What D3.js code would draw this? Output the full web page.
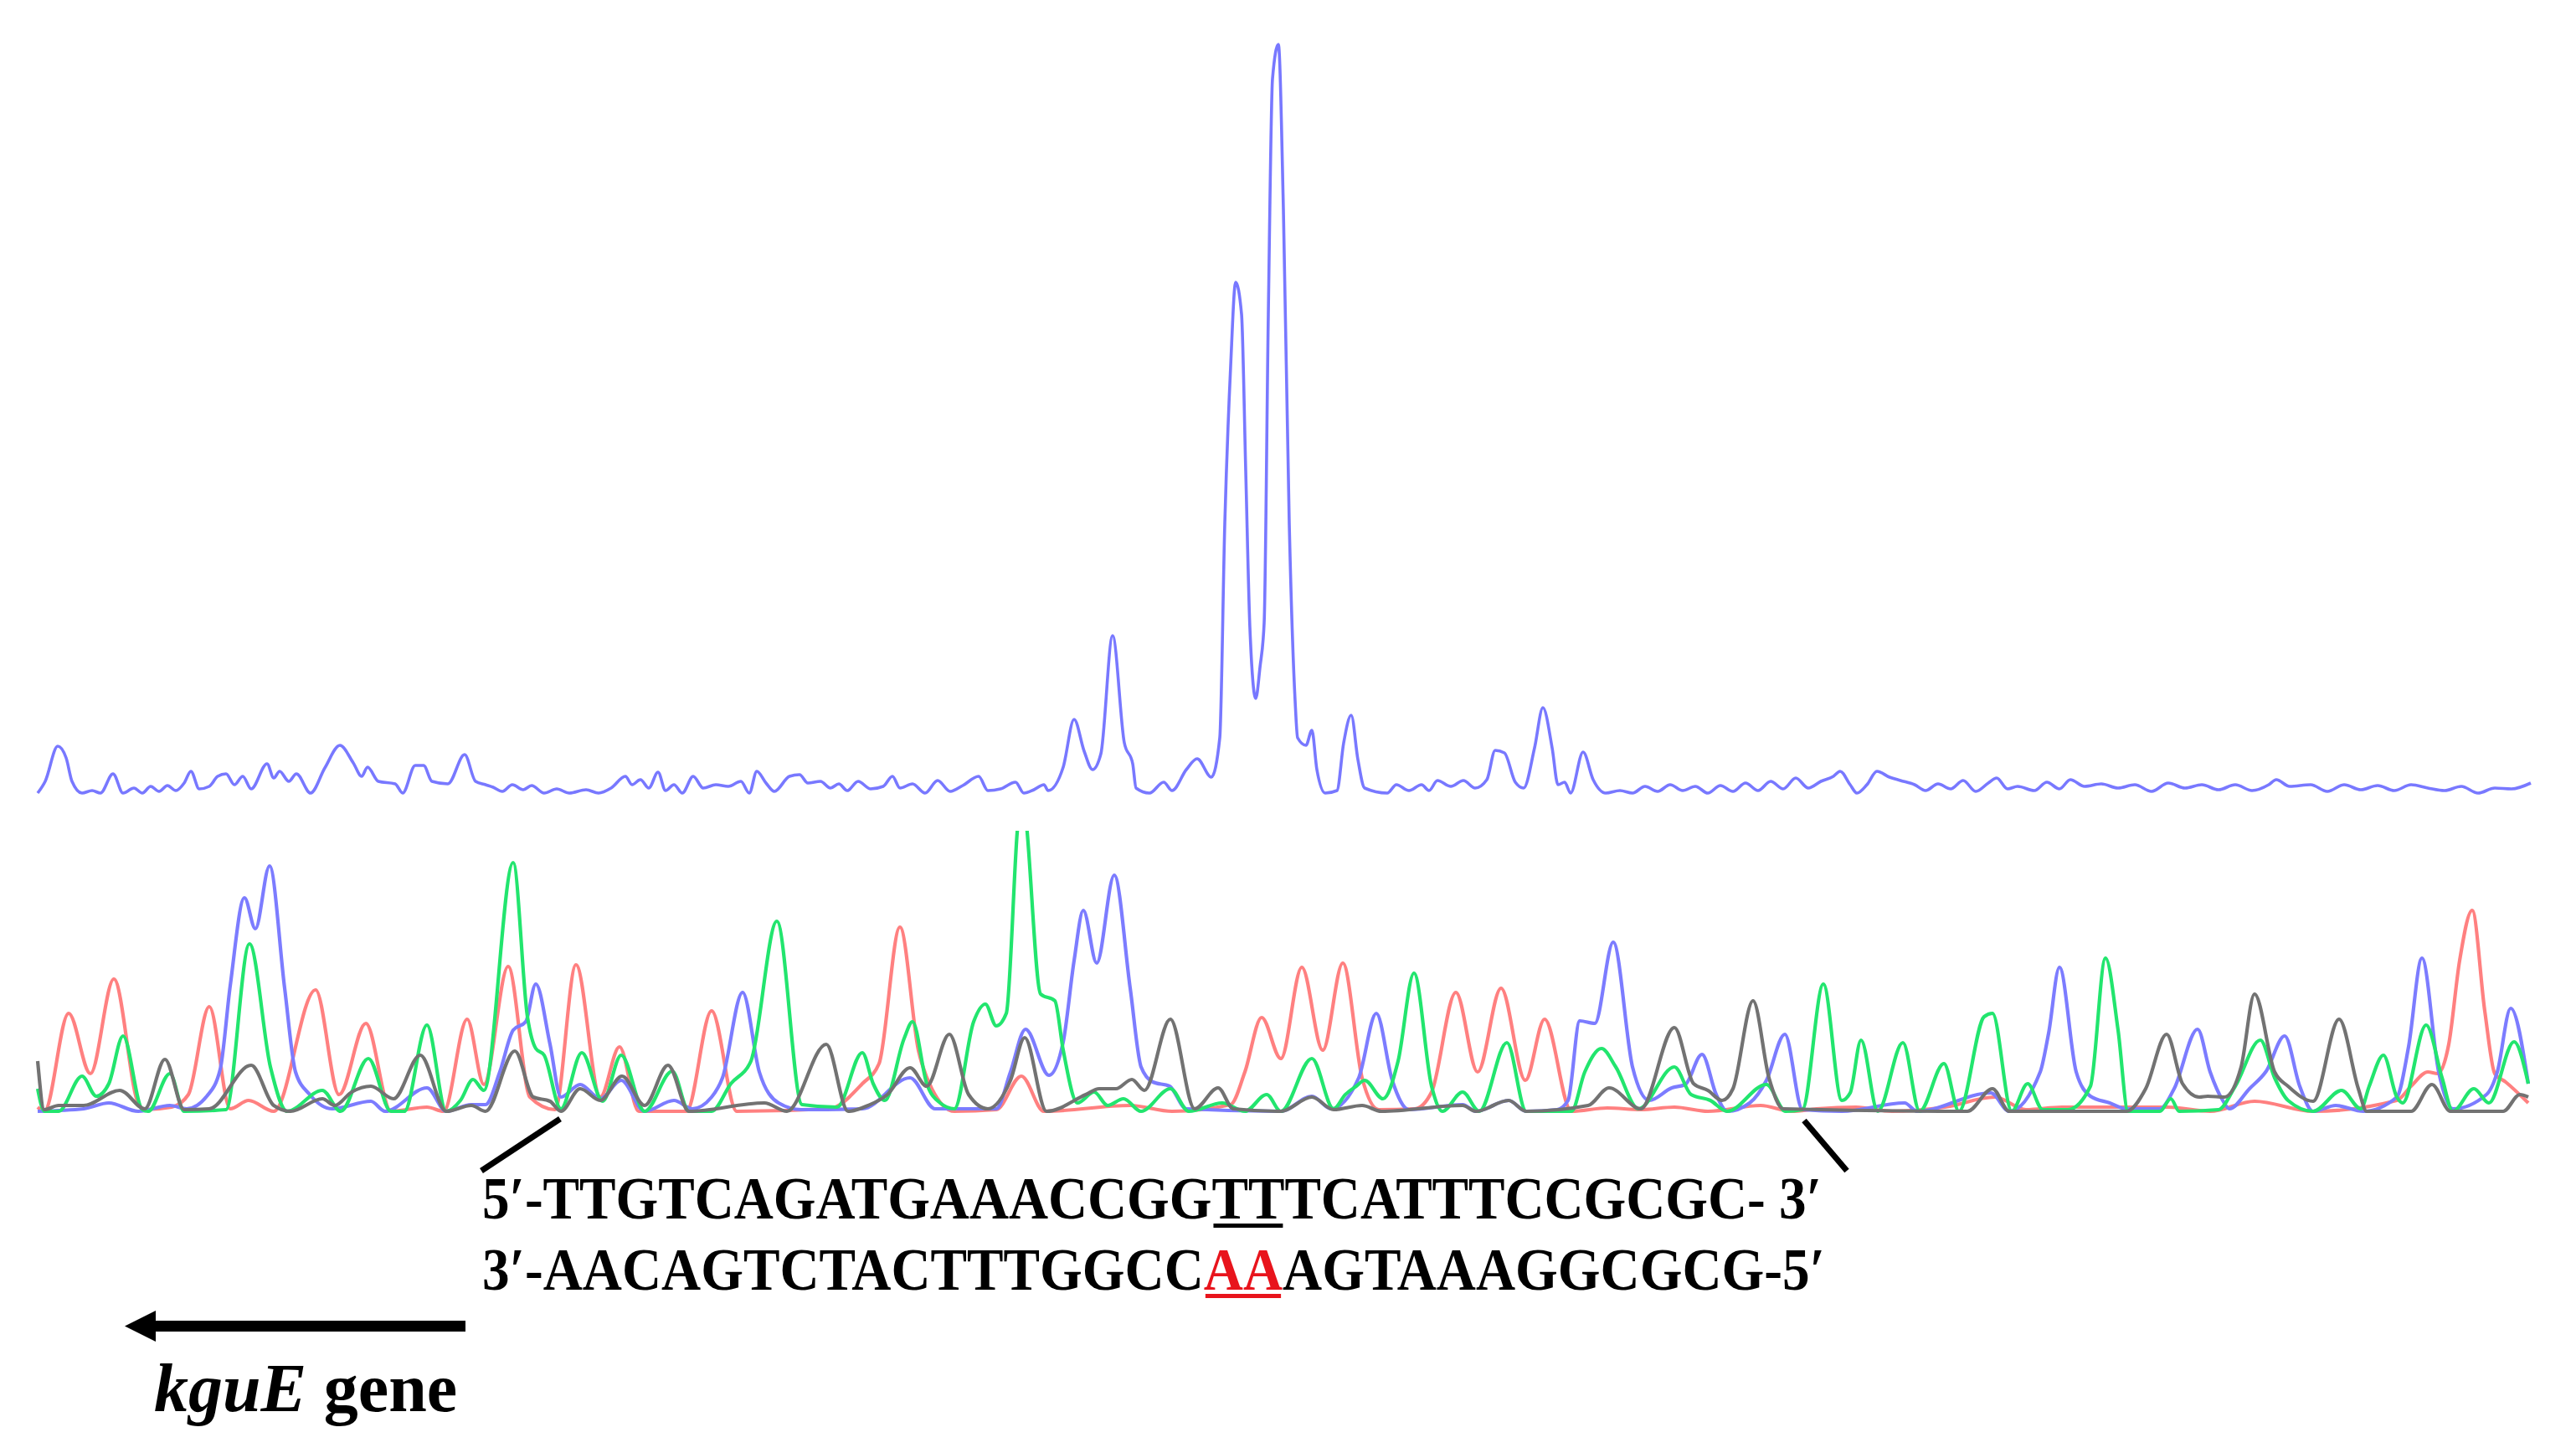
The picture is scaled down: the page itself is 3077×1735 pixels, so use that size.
<!DOCTYPE html>
<html><head><meta charset="utf-8">
<script src="https://cdn.jsdelivr.net/npm/d3@7"></script>
<style>html,body{margin:0;padding:0;background:#fff;} svg{display:block}</style>
</head><body>
<svg id="c" width="3077" height="1735"></svg>
<script>
// ---- footprint trace (top, blue) : [scan position, intensity]
const footprintTrace = [[45,0],[54,14],[69,56],[79,42],[86,14],[98,0],[110,3],[120,0],[135,23],[147,0],[160,6],[170,0],[180,8],[190,2],[200,9],[210,3],[220,12],[228,26],[238,5],[250,8],[260,20],[270,23],[280,10],[290,20],[300,5],[319,35],[327,18],[334,26],[345,14],[354,23],[371,0],[388,30],[406,57],[422,36],[432,20],[439,31],[452,14],[472,11],[481,0],[496,33],[506,33],[516,14],[535,11],[555,46],[568,14],[580,10],[589,7],[600,2],[612,10],[625,4],[635,9],[650,0],[665,5],[680,0],[700,4],[715,0],[730,6],[747,20],[755,10],[765,16],[775,6],[786,25],[795,3],[805,10],[815,0],[828,20],[840,6],[855,10],[870,8],[885,14],[895,0],[904,26],[915,12],[925,2],[943,20],[955,22],[965,12],[980,14],[992,6],[1002,11],[1012,3],[1025,14],[1040,5],[1055,8],[1066,20],[1075,6],[1090,11],[1105,0],[1120,15],[1135,2],[1150,9],[1169,20],[1180,3],[1195,5],[1213,13],[1223,0],[1235,4],[1247,10],[1252,3],[1270,31],[1283,88],[1295,50],[1305,28],[1315,47],[1329,188],[1343,60],[1353,35],[1357,6],[1373,0],[1390,13],[1400,3],[1417,28],[1430,41],[1447,19],[1457,66],[1463,322],[1470,510],[1476,610],[1483,572],[1488,385],[1493,197],[1500,113],[1505,150],[1510,203],[1515,572],[1520,853],[1527,894],[1533,697],[1540,322],[1547,110],[1550,66],[1560,57],[1567,75],[1573,28],[1583,0],[1597,3],[1605,60],[1614,93],[1622,40],[1630,6],[1657,0],[1668,10],[1683,3],[1698,10],[1707,3],[1717,15],[1733,8],[1748,15],[1762,6],[1776,16],[1786,51],[1797,48],[1810,13],[1820,6],[1833,54],[1843,102],[1854,54],[1861,10],[1869,13],[1876,0],[1891,49],[1903,16],[1918,0],[1935,3],[1950,0],[1965,8],[1980,2],[1995,10],[2010,3],[2025,8],[2040,0],[2055,9],[2070,2],[2085,12],[2100,3],[2115,14],[2130,5],[2145,18],[2160,6],[2175,14],[2190,20],[2198,26],[2210,10],[2218,0],[2230,10],[2242,26],[2257,19],[2270,15],[2287,10],[2300,3],[2315,11],[2330,5],[2345,15],[2360,2],[2375,12],[2385,18],[2398,5],[2410,8],[2430,3],[2445,13],[2460,5],[2473,16],[2490,8],[2510,11],[2530,6],[2550,10],[2570,2],[2590,12],[2610,6],[2630,10],[2650,4],[2670,10],[2690,3],[2710,10],[2719,16],[2735,8],[2760,10],[2780,2],[2800,10],[2820,4],[2840,9],[2860,3],[2880,10],[2900,6],[2920,3],[2940,8],[2960,0],[2980,6],[3000,5],[3023,12]];

// ---- sequencing chromatogram (bottom) : [scan position, intensity]
const traceT = [[45,5],[53,0],[82,117],[108,45],[136,158],[165,10],[172,2],[205,5],[225,20],[250,125],[275,3],[297,13],[327,0],[377,145],[405,20],[437,105],[467,0],[510,5],[530,0],[558,110],[578,32],[607,173],[633,17],[663,2],[688,175],[717,17],[740,77],[763,0],[820,0],[850,120],[880,0],[990,3],[1030,33],[1050,57],[1075,220],[1097,73],[1113,27],[1140,0],[1190,2],[1220,42],[1247,0],[1350,7],[1400,0],[1470,8],[1487,47],[1507,112],[1530,63],[1555,172],[1580,73],[1604,177],[1627,40],[1647,2],[1690,3],[1710,23],[1739,142],[1765,47],[1793,147],[1822,37],[1845,110],[1877,0],[1920,4],[1960,2],[2000,5],[2040,0],[2103,7],[2140,0],[2170,3],[2217,5],[2260,0],[2323,5],[2383,17],[2420,2],[2463,5],[2513,5],[2590,5],[2640,0],[2693,12],[2763,0],[2863,13],[2880,30],[2900,47],[2912,45],[2925,80],[2938,180],[2953,240],[2968,120],[2980,45],[2993,35],[3020,10]];
const traceA = [[45,27],[53,0],[70,0],[98,42],[115,18],[130,33],[147,90],[170,2],[177,0],[203,45],[220,0],[270,2],[298,200],[323,53],[343,0],[385,25],[407,0],[440,63],[467,0],[483,0],[510,103],[533,0],[550,13],[565,38],[578,25],[613,297],[630,113],[640,75],[650,67],[670,3],[695,70],[720,12],[742,67],[770,0],[803,48],[823,0],[850,0],[873,33],[897,60],[928,227],[958,8],[1000,5],[1030,70],[1043,33],[1057,13],[1080,87],[1090,107],[1107,33],[1123,10],[1140,3],[1163,107],[1177,128],[1190,102],[1202,117],[1215,333],[1221,400],[1227,333],[1243,140],[1260,132],[1270,73],[1287,10],[1307,23],[1323,7],[1342,15],[1363,0],[1398,27],[1420,0],[1460,10],[1487,0],[1513,20],[1530,0],[1567,63],[1593,3],[1607,20],[1620,30],[1630,37],[1652,15],[1670,60],[1689,165],[1710,30],[1723,0],[1747,23],[1767,0],[1800,82],[1823,0],[1877,0],[1893,47],[1913,75],[1930,53],[1957,3],[2000,53],[2020,20],[2043,13],[2063,0],[2110,32],[2133,0],[2153,2],[2178,152],[2200,13],[2210,22],[2223,85],[2243,0],[2273,82],[2293,0],[2322,57],[2340,0],[2370,113],[2380,117],[2403,0],[2422,33],[2440,2],[2470,2],[2497,30],[2515,183],[2530,97],[2542,0],[2580,0],[2593,15],[2603,0],[2650,2],[2670,30],[2700,85],[2717,40],[2733,13],[2763,0],[2797,25],[2820,3],[2830,30],[2847,67],[2863,17],[2870,10],[2898,103],[2917,40],[2930,0],[2955,27],[2973,10],[3003,83],[3020,33]];
const traceC = [[45,0],[100,3],[130,10],[165,0],[203,7],[223,3],[247,18],[263,50],[275,150],[292,255],[305,218],[322,293],[340,147],[353,47],[370,20],[397,3],[443,12],[460,0],[510,28],[533,0],[563,8],[580,8],[597,47],[613,97],[628,107],[640,152],[657,80],[670,17],[693,32],[717,15],[742,37],[770,0],[805,13],[827,3],[850,17],[863,40],[887,142],[907,47],[930,10],[957,2],[1030,3],[1087,40],[1117,3],[1190,3],[1207,47],[1225,98],[1253,43],[1270,83],[1283,180],[1294,240],[1310,177],[1331,282],[1350,147],[1363,53],[1377,35],[1397,30],[1417,3],[1530,0],[1567,18],[1590,3],[1623,40],[1644,117],[1663,37],[1683,2],[1747,8],[1763,0],[1802,13],[1823,0],[1860,2],[1873,13],[1887,108],[1905,105],[1927,202],[1950,53],[1970,13],[1997,28],[2013,32],[2033,68],[2050,20],[2063,0],[2090,10],[2110,37],[2132,92],[2153,2],[2200,0],[2275,10],[2290,0],[2378,22],[2400,0],[2437,47],[2447,93],[2460,172],[2480,47],[2497,18],[2520,10],[2540,3],[2580,3],[2597,27],[2625,98],[2640,47],[2655,13],[2663,3],[2687,27],[2707,48],[2729,90],[2747,30],[2763,0],[2790,7],[2823,0],[2863,17],[2877,77],[2893,183],[2913,47],[2930,3],[2970,20],[2983,47],[2999,123],[3020,33]];
const traceG = [[45,60],[53,2],[70,7],[100,7],[143,25],[173,3],[197,62],[220,2],[250,3],[300,55],[327,7],[347,0],[385,15],[400,7],[420,23],[443,30],[470,15],[502,67],[533,0],[563,7],[580,0],[615,72],[637,17],[657,12],[670,0],[693,27],[717,13],[743,42],[770,7],[798,55],[823,0],[913,10],[940,0],[987,80],[1013,0],[1037,7],[1060,20],[1087,52],[1107,30],[1134,92],[1157,20],[1180,3],[1207,37],[1224,88],[1250,0],[1297,20],[1313,27],[1333,27],[1352,38],[1367,25],[1398,110],[1427,3],[1455,28],[1473,3],[1530,0],[1567,17],[1593,2],[1627,7],[1650,0],[1747,7],[1763,0],[1802,13],[1823,0],[1897,7],[1922,28],[1960,3],[2000,100],[2023,33],[2040,25],[2057,13],[2070,27],[2094,132],[2113,40],[2130,3],[2350,0],[2380,27],[2400,0],[2540,0],[2563,27],[2588,92],[2607,33],[2627,17],[2637,18],[2657,17],[2677,53],[2693,140],[2717,47],[2733,30],[2763,12],[2794,110],[2817,27],[2827,0],[2880,0],[2905,32],[2927,0],[2990,0],[3010,20],[3020,17]];

// ---- texts
const strand5 = "5′-TTGTCAGATGAAACCGGTTTCATTTCCGCGC- 3′";
const strand3 = "3′-AACAGTCTACTTTGGCCAAAGTAAAGGCGCG-5′";
const markedChars = [20, 21];           // protected bases (index in strand strings)
const geneName = "kguE";
const geneWord = " gene";
const bracketScan = [669, 2155];        // scan positions where the bracket lines start

// ---- drawing
const svg = d3.select("#c");
svg.append("rect").attr("width",3077).attr("height",1735).attr("fill","#fff");
const defs = svg.append("defs");

const x = d3.scaleLinear().domain([0, 3077]).range([0, 3077]);
const yTop = d3.scaleLinear().domain([0, 900]).range([947, 47]);
const yBot = d3.scaleLinear().domain([0, 340]).range([1327, 987]);

const lineTop = d3.line().x(d => x(d[0])).y(d => yTop(d[1])).curve(d3.curveMonotoneX);
const lineBot = d3.line().x(d => x(d[0])).y(d => yBot(d[1])).curve(d3.curveMonotoneX);

svg.append("path").datum(footprintTrace).attr("d", lineTop)
  .attr("fill","none").attr("stroke","#7878ff").attr("stroke-width",3.6)
  .attr("stroke-linejoin","round");

defs.append("clipPath").attr("id","chromClip").append("rect")
  .attr("x",0).attr("y",yBot(335)).attr("width",3077).attr("height",yBot(-10)-yBot(335));

const chrom = svg.append("g").attr("clip-path","url(#chromClip)");
const series = [
  {data: traceT, color: "#ff8080"},
  {data: traceC, color: "#7c7cff"},
  {data: traceA, color: "#22e56e"},
  {data: traceG, color: "#727272"}
];
chrom.selectAll("path").data(series).join("path")
  .attr("d", d => lineBot(d.data))
  .attr("fill","none").attr("stroke", d => d.color).attr("stroke-width",4.2)
  .attr("stroke-linejoin","round");

// bracket lines
svg.append("line").attr("x1", x(bracketScan[0])).attr("y1", 1336).attr("x2", x(575)).attr("y2", 1398)
  .attr("stroke","#000").attr("stroke-width",7);
svg.append("line").attr("x1", x(bracketScan[1])).attr("y1", 1338).attr("x2", x(2206)).attr("y2", 1398)
  .attr("stroke","#000").attr("stroke-width",7);

const font = "'Liberation Serif','Times New Roman',serif";
const t1 = svg.append("text").attr("x", 576).attr("y", 1455)
  .attr("font-family", font).attr("font-weight","bold").attr("font-size",71)
  .attr("textLength",1600).attr("lengthAdjust","spacingAndGlyphs")
  .text(strand5);

// second strand: one text; the protected bases are coloured red via a hard-stop gradient
const t2 = svg.append("text").attr("x", 576).attr("y", 1540)
  .attr("font-family", font).attr("font-weight","bold").attr("font-size",71)
  .attr("textLength",1604).attr("lengthAdjust","spacingAndGlyphs")
  .attr("fill","#000").text(strand3);

const n2 = t2.node();
const ra = n2.getExtentOfChar(markedChars[0]);
const rb = n2.getExtentOfChar(markedChars[1]);
const rx0 = ra.x, rx1 = rb.x + rb.width;
const grad = defs.append("linearGradient").attr("id","aaFill")
  .attr("gradientUnits","userSpaceOnUse").attr("x1",0).attr("y1",0).attr("x2",3077).attr("y2",0);
[[0,"#000"],[rx0/3077,"#000"],[rx0/3077,"#e8141c"],[rx1/3077,"#e8141c"],[rx1/3077,"#000"],[1,"#000"]]
  .forEach(s => grad.append("stop").attr("offset", s[0]).attr("stop-color", s[1]));
t2.attr("fill","url(#aaFill)");

// underlines of the protected bases
{
  const n = t1.node();
  const a = n.getExtentOfChar(markedChars[0]);
  const b = n.getExtentOfChar(markedChars[1]);
  svg.append("rect").attr("x", a.x + 2).attr("y", 1461).attr("width", b.x + b.width - a.x - 4)
    .attr("height", 5).attr("fill", "#000");
  svg.append("rect").attr("x", rx0 + 2).attr("y", 1545).attr("width", rx1 - rx0 - 4)
    .attr("height", 5).attr("fill", "#e8141c");
}

// gene arrow
svg.append("rect").attr("x",182).attr("y",1577).attr("width",374).attr("height",13).attr("fill","#000");
svg.append("path").attr("d","M149,1583.5 L186,1565 L186,1602 Z").attr("fill","#000");

const g = svg.append("text").attr("x",184).attr("y",1685)
  .attr("font-family", font).attr("font-weight","bold").attr("font-size",82);
g.append("tspan").attr("font-style","italic").text(geneName);
g.append("tspan").text(geneWord);
</script>
</body></html>
